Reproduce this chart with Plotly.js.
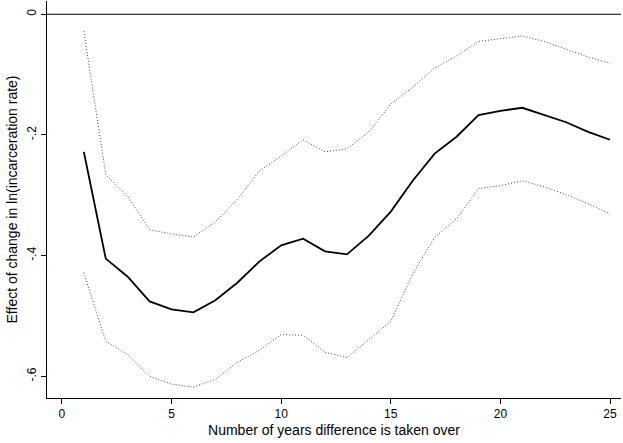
<!DOCTYPE html>
<html>
<head>
<script src="https://cdn.plot.ly/plotly-3.0.1.min.js"></script>
<style>body{margin:0;background:#fff}</style>
</head>
<body>
<div id="chart" style="width:623px;height:443px"></div>
<script>
const years = [1,2,3,4,5,6,7,8,9,10,11,12,13,14,15,16,17,18,19,20,21,22,23,24,25];
const effect = [-0.228,-0.405,-0.435,-0.476,-0.489,-0.494,-0.474,-0.445,-0.41,-0.383,-0.372,-0.393,-0.398,-0.367,-0.327,-0.276,-0.231,-0.203,-0.167,-0.160,-0.155,-0.167,-0.179,-0.195,-0.208];
const upper = [-0.028,-0.266,-0.302,-0.357,-0.364,-0.369,-0.344,-0.307,-0.26,-0.235,-0.208,-0.228,-0.223,-0.195,-0.149,-0.121,-0.089,-0.069,-0.045,-0.04,-0.036,-0.045,-0.058,-0.071,-0.081];
const lower = [-0.428,-0.542,-0.564,-0.6,-0.613,-0.618,-0.605,-0.577,-0.557,-0.531,-0.532,-0.56,-0.569,-0.539,-0.509,-0.43,-0.37,-0.339,-0.289,-0.284,-0.276,-0.286,-0.299,-0.314,-0.331];

const data = [
  {x: years, y: upper, mode: 'lines', line: {color: '#444', width: 1, dash: '1px,2px'}},
  {x: years, y: lower, mode: 'lines', line: {color: '#444', width: 1, dash: '1px,2px'}},
  {x: years, y: effect, mode: 'lines', line: {color: 'black', width: 1.8}}
];

const layout = {
  width: 623, height: 443,
  margin: {l: 47, r: 2, t: 1, b: 45},
  showlegend: false,
  paper_bgcolor: 'white', plot_bgcolor: 'white',
  font: {family: 'Liberation Sans, Arial, sans-serif', size: 12, color: 'black'},
  xaxis: {
    range: [-0.68, 25.5], tickvals: [0,5,10,15,20,25],
    showgrid: false, zeroline: false, showline: true, linecolor: 'black', linewidth: 1,
    ticks: 'outside', ticklen: 5, tickcolor: 'black',
    title: {text: 'Number of years difference is taken over', standoff: 4}
  },
  yaxis: {
    range: [-0.636, 0.022], tickvals: [0,-0.2,-0.4,-0.6], ticktext: ['0','-.2','-.4','-.6'],
    tickangle: -90,
    showgrid: false, zeroline: false, showline: true, linecolor: 'black', linewidth: 1,
    ticks: 'outside', ticklen: 5, tickcolor: 'black',
    title: {text: 'Effect of change in ln(incarceration rate)', standoff: 4}
  },
  shapes: [{type: 'line', xref: 'paper', x0: 0, x1: 1, yref: 'y', y0: 0, y1: 0, line: {color: 'black', width: 1.2}}]
};

Plotly.newPlot('chart', data, layout, {displayModeBar: false});
</script>
</body>
</html>
